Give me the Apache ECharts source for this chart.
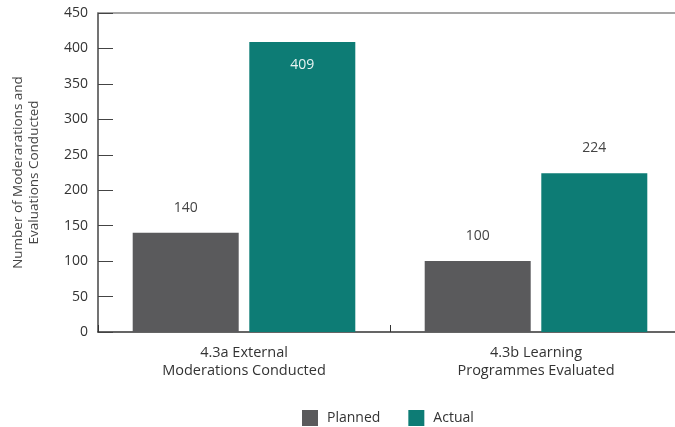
<!DOCTYPE html>
<html>
<head>
    <meta charset="utf-8" />
    <script src="https://cdn.jsdelivr.net/npm/echarts@6/dist/echarts.min.js"></script>
</head>
<body style="margin:0;">
    <div id="main" style="width:675px;height:427px;"></div>
    <script type="text/javascript">
        var categories = ['4.3a External\nModerations Conducted', '4.3b Learning\nProgrammes Evaluated'];
        var planned = [140, 100];
        var actual = [409, 224];
        var yTicks = [0, 450, 50];

        var font = '"Open Sans", "Noto Sans", sans-serif';
        var myChart = echarts.init(document.getElementById('main'));
        var option = {
            animation: false,
            textStyle: { fontFamily: font },
            grid: { left: 98, right: -7, top: 13, bottom: 95, outerBoundsMode: 'none', containLabel: false },
            legend: {
                data: ['Planned', 'Actual'],
                left: 297,
                top: 405,
                itemWidth: 16,
                itemHeight: 16,
                itemGap: 28,
                icon: 'rect',
                textStyle: { fontSize: 14, color: '#333', fontFamily: font, padding: [0, 0, 0, 4] }
            },
            xAxis: [{
                type: 'category',
                data: categories,
                axisLine: { lineStyle: { color: '#333', width: 1.5 } },
                axisTick: { show: true, inside: true, length: 7, lineStyle: { color: '#333' } },
                axisLabel: { fontSize: 14.5, color: '#333', lineHeight: 18, margin: 12, fontFamily: font }
            }, {
                type: 'category',
                position: 'top',
                data: categories,
                axisLine: { show: true, lineStyle: { color: '#888', width: 1.5 } },
                axisTick: { show: false },
                axisLabel: { show: false }
            }],
            yAxis: {
                type: 'value',
                min: yTicks[0],
                max: yTicks[1],
                interval: yTicks[2],
                name: 'Number of Moderarations and\nEvaluations Conducted',
                nameLocation: 'middle',
                nameGap: 56,
                nameTextStyle: { fontSize: 13.5, color: '#444', lineHeight: 16, fontFamily: font },
                axisLine: { show: true, lineStyle: { color: '#444', width: 1.5 } },
                axisTick: { show: true, inside: true, length: 15, lineStyle: { color: '#444' } },
                axisLabel: { fontSize: 14, color: '#333', margin: 10, fontFamily: font },
                splitLine: { show: false }
            },
            series: [{
                name: 'Planned',
                type: 'bar',
                data: planned,
                barWidth: 106,
                barGap: '10%',
                itemStyle: { color: '#5a5a5c' },
                label: { show: true, position: 'top', distance: 18, fontSize: 14, color: '#444', fontFamily: font }
            }, {
                name: 'Actual',
                type: 'bar',
                data: actual.map(function (v, i) {
                    return i === 0 ? {
                        value: v,
                        label: { position: 'insideTop', distance: 16, color: '#e8f3f2' }
                    } : v;
                }),
                barWidth: 106,
                itemStyle: { color: '#0d7c75' },
                label: { show: true, position: 'top', distance: 18, fontSize: 14, color: '#444', fontFamily: font }
            }]
        };
        myChart.setOption(option);
    </script>
</body>
</html>
